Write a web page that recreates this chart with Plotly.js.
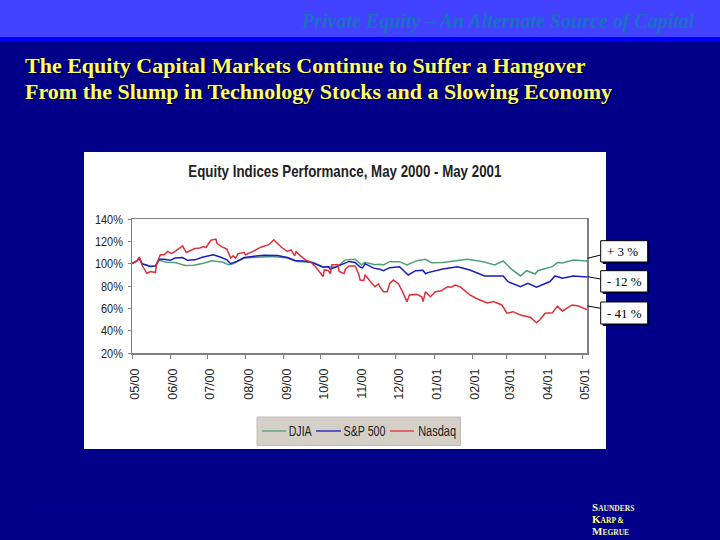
<!DOCTYPE html>
<html><head><meta charset="utf-8">
<script src="https://cdn.plot.ly/plotly-3.0.1.min.js"></script>
<style>html,body{margin:0;padding:0;background:#000088}</style></head>
<body><div id="chart" style="width:720px;height:540px"></div>
<script>
var tickDays=[0,31,61,92,123,153,184,214,245,276,304,335,365];
var tickLabels=["05/00","06/00","07/00","08/00","09/00","10/00","11/00","12/00","01/01","02/01","03/01","04/01","05/01"];
var djiaDays=[0,4,6,8,12,15,19,22,28,35,43,50,58,65,74,78,82,91,101,115,126,134,147,155,166,173,181,186,189,197,201,204,209,217,223,231,238,243,252,264,272,285,294,301,307,315,320,327,329,341,345,349,358,369];
var djia=[100,102.5,105,100,98.6,97.4,98,103,101.3,101,98.3,98.6,100.4,102.5,101.3,99,100,105,105.8,106.4,105,102,101,97,97,103.4,104,99,101.3,99,99.5,98.8,101.8,101.8,98.8,102.7,103.9,100.9,101,102.7,104,101.8,98.8,102.4,95.8,89,93.7,90.7,93.7,97.3,101,100.6,103.2,102.4];
var spDays=[0,4,6,8,12,15,19,22,26,31,35,41,45,51,57,66,72,77,80,85,91,99,107,118,126,132,139,146,151,155,159,161,166,170,176,181,185,187,189,196,201,204,209,217,224,230,236,238,240,252,264,274,286,301,305,315,321,328,339,343,349,358,369];
var sp=[100,102.5,105,100,98.6,97.4,98,104,104,103,105,105.5,103,103.4,105.8,108,105.8,103.4,100,102,105.5,106.4,107.6,107.3,105.5,102.8,102.5,101,99,96.8,97.4,95,97.4,99,102,101,97,96.2,100,96,95,93.7,96.4,97.3,89.9,93.7,94,91,92,95.2,97.3,94.3,89,89,83.9,79.4,82.4,79,84,89,87,89,88];
var nasdaqDays=[0,4,6,8,12,15,19,20,23,26,29,32,35,41,44,47,51,55,58,60,64,68,69,73,77,80,82,84,86,91,92,99,105,111,115,118,122,126,129,132,133,136,141,145,149,153,155,156,159,161,162,167,168,172,173,176,181,184,185,188,189,193,197,200,201,204,207,209,212,216,219,223,225,231,235,236,238,242,246,251,256,259,262,266,274,279,288,293,300,304,309,315,323,328,331,335,341,345,349,357,362,369];
var nasdaq=[100,102.5,106,99,91.4,93,92,100,108,108,111,109,111,116,110,111.5,113.6,114,115.4,114.5,121,122,118,115,113,105,107,105,109,110,108,111.5,115,117,121.4,118,114,111,112.4,107,111,107.6,103,101.6,97,91.4,88.4,94.4,94,91,99,99,93,91,95,98,98,90,85.4,85,90,84.5,79.4,81.8,79.4,74.9,74.9,82.3,85.3,82,75.8,66,71.9,72.5,70.4,66,74.9,70.4,74.9,75.8,79.4,79,80.9,79.4,72,69,64.8,66,63,55.6,57,54,52,47,50,55.6,56,62,57.6,63,62,59];
var seriesNames=["DJIA","S&P 500","Nasdaq"];
var seriesColors=['#4f9f78','#1a1ac8','#e0303a'];
var callouts=["+ 3 %","- 12 %","- 41 %"];
var headerText="Private Equity – An Alternate Source of Capital";
var titleLines=["The Equity Capital Markets Continue to Suffer a Hangover","From the Slump in Technology Stocks and a Slowing Economy"];
var chartTitle="Equity Indices Performance, May 2000 - May 2001";

var W=720,H=540,L=132,R=587,T=219,B=353;
function px(x){return (x-L)/(R-L);}
function py(y){return (B-y)/(B-T);}
function rect(x0,y0,x1,y1,fill,line,lw){return {type:'rect',xref:'paper',yref:'paper',x0:px(x0),x1:px(x1),y0:py(y0),y1:py(y1),fillcolor:fill,line:{color:line||fill,width:lw||0},layer:'below'};}
function seg(x0,y0,x1,y1,c,w,layer){return {type:'line',xref:'paper',yref:'paper',x0:px(x0),x1:px(x1),y0:py(y0),y1:py(y1),line:{color:c,width:w},layer:layer||'above'};}
function txt(x,y,t,size,color,fam,xa,weight,style,shadow){var f={size:size,color:color,family:fam};if(weight)f.weight=weight;if(style)f.style=style;if(shadow)f.shadow=shadow;return {xref:'paper',yref:'paper',x:px(x),y:py(y),text:t,showarrow:false,xanchor:xa||'left',yanchor:'middle',font:f};}
var serif='"Liberation Serif","Times New Roman",serif';
var sans='"Liberation Sans",Arial,sans-serif';
var boxes=[[240.7,262],[270.7,292],[302,324]];
var leaders=[[258.3,255],[276.7,279],[306,308.3]];
var shapes=[
 rect(0,0,720,37,'#4343ff'),rect(0,37,720,42,'#0000ff'),
 rect(84,152,606,449,'#ffffff'),
 rect(257,417,460.5,445.5,'#d4d0c8','#c0bcb4',1),
 seg(30,510,590,510,'#000099',1,'below'),
 seg(262,431,286,431,seriesColors[0],1.3),
 seg(316,431,341,431,seriesColors[1],1.3),
 seg(390,431,414,431,seriesColors[2],1.3)
];
leaders.forEach(function(l){shapes.push(seg(587.5,l[0],600.7,l[1],'#000000',1));});
boxes.forEach(function(b){
 var s=rect(602.7,b[0]+2,649.7,b[1]+2,'#00004a');s.layer='above';shapes.push(s);
 var r=rect(600.7,b[0],647.7,b[1],'#ffffff','#000000',1);r.layer='above';shapes.push(r);
});
var annotations=[
 txt(697,21,headerText,20,'#1a70c4',serif,'right','bold','italic'),
 txt(23,65.5,titleLines[0],22,'#ffff66',serif,'left','bold','normal','1px 1px 0 #000'),
 txt(23,91.5,titleLines[1],22,'#ffff66',serif,'left','bold','normal','1px 1px 0 #000'),
 txt(344.5,171,chartTitle,17,'#222222',sans,'center','bold'),
 txt(283,431,seriesNames[0],14,'#222222',sans),
 txt(335,431,seriesNames[1].replace('&','&amp;'),14,'#222222',sans),
 txt(411,431,seriesNames[2],14,'#222222',sans),
 txt(590,507,'S<span style="font-size:7.5px">AUNDERS</span>',11,'#f4f4c0',serif,'left','bold'),
 txt(590,519,'K<span style="font-size:7.5px">ARP &amp;</span>',11,'#ffff66',serif,'left','bold'),
 txt(590,531,'M<span style="font-size:7.5px">EGRUE</span>',11,'#f4f4c0',serif,'left','bold')
];
callouts.forEach(function(c,i){annotations.push(txt(605,(boxes[i][0]+boxes[i][1])/2,c,13,'#000000',serif,'left'));});
var lw=1.5;
var data=[
 {x:djiaDays,y:djia,name:seriesNames[0],mode:'lines',line:{color:seriesColors[0],width:lw}},
 {x:spDays,y:sp,name:seriesNames[1],mode:'lines',line:{color:seriesColors[1],width:lw}},
 {x:nasdaqDays,y:nasdaq,name:seriesNames[2],mode:'lines',line:{color:seriesColors[2],width:lw}}
];
var layout={
 width:W,height:H,
 margin:{l:L,r:W-R,t:T,b:H-B,pad:0},
 paper_bgcolor:'#000088',plot_bgcolor:'#ffffff',
 showlegend:false,
 xaxis:{range:[0,369],tickvals:tickDays,ticktext:tickLabels,tickangle:-90,ticks:'outside',ticklen:4,tickcolor:'#808080',showgrid:false,zeroline:false,showline:true,mirror:true,linecolor:'#808080',linewidth:1.5,ticklabelstandoff:5,ticklabelshift:3,tickfont:{family:sans,size:12.5,color:'#222222'}},
 yaxis:{range:[20,140],tickvals:[20,40,60,80,100,120,140],ticktext:["20%","40%","60%","80%","100%","120%","140%"],ticks:'outside',ticklen:3,tickcolor:'#808080',showgrid:false,zeroline:false,showline:true,mirror:true,linecolor:'#808080',linewidth:1.5,ticklabelstandoff:2,tickfont:{family:sans,size:13,color:'#222222'}},
 shapes:shapes,annotations:annotations
};
function condense(el,target){
 el.setAttribute('textLength',target);
 el.setAttribute('lengthAdjust','spacingAndGlyphs');
}
Plotly.newPlot('chart',data,layout,{displayModeBar:false,staticPlot:true}).then(function(){
 document.querySelectorAll('.annotation-text').forEach(function(t){
  var s=t.textContent;
  if(s===chartTitle)condense(t,313);
  if(s===seriesNames[0])condense(t,23);
  if(s===seriesNames[1])condense(t,42);
  if(s===seriesNames[2])condense(t,38);
 });
 document.querySelectorAll('.ytick text').forEach(function(t){
  condense(t,t.getComputedTextLength()*0.84);
 });
});
</script></body></html>
